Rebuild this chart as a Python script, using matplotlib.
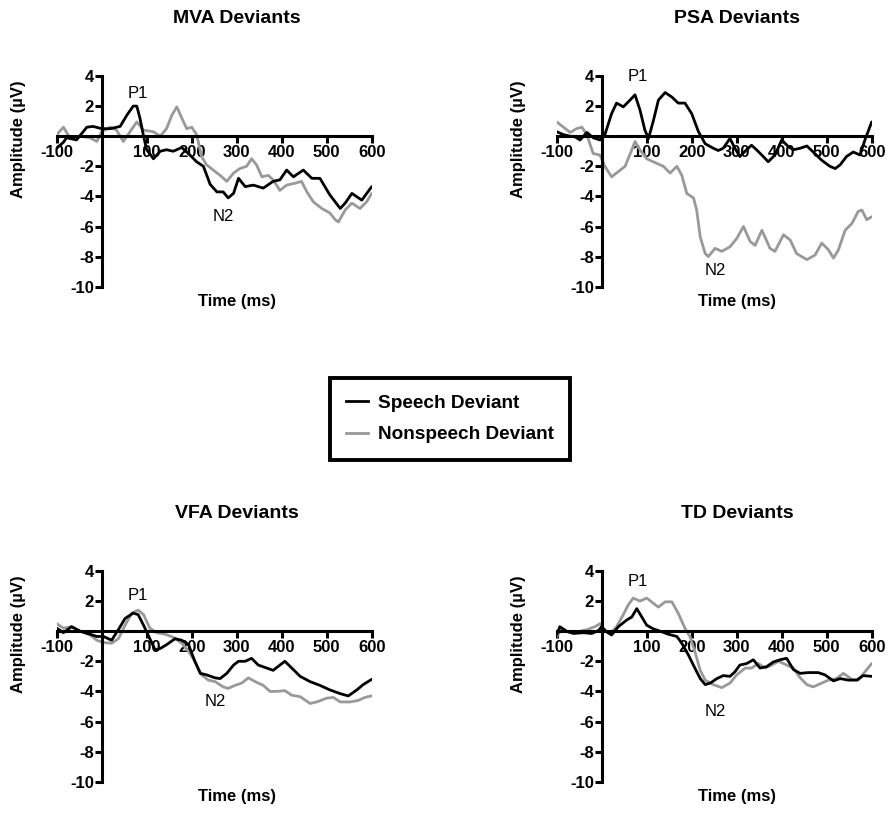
import matplotlib
matplotlib.use("Agg")
import matplotlib.pyplot as plt
from matplotlib.lines import Line2D

plt.rcParams["font.family"] = ["Liberation Sans", "DejaVu Sans"]

# ---- data (time in ms, amplitude in microvolts) ----
mva_speech_t = [-100, -85, -78, -56, -33, -19, 0, 19, 41, 56, 70, 78, 85, 93, 100, 115, 130, 144, 159, 178,
                196, 211, 226, 241, 256, 270, 281, 293, 304, 319, 337, 359, 381, 396, 411, 426, 448, 467, 485,
                507, 530, 541, 556, 578, 600]
mva_speech_v = [-0.8, -0.4, -0.1, -0.25, 0.6, 0.65, 0.5, 0.5, 0.65, 1.4, 2.0, 2.0, 1.2, 0.0, -0.9, -1.5, -1.0,
                -0.9, -1.0, -0.75, -1.25, -1.7, -2.0, -3.2, -3.7, -3.7, -4.1, -3.8, -2.8, -3.35, -3.25, -3.45,
                -3.0, -2.9, -2.25, -2.7, -2.25, -2.8, -2.8, -3.9, -4.8, -4.45, -3.8, -4.25, -3.35]
mva_nonspeech_t = [-100, -85, -70, -48, -26, -11, 0, 19, 33, 48, 63, 78, 93, 115, 130, 144, 156, 167, 178, 189,
                   200, 211, 222, 233, 248, 263, 278, 293, 307, 322, 333, 344, 356, 370, 381, 396, 411, 433, 444,
                   456, 470, 489, 507, 519, 526, 541, 556, 574, 589, 600]
mva_nonspeech_v = [0.1, 0.6, -0.15, 0.0, -0.1, -0.35, 0.3, 0.6, 0.4, -0.35, 0.3, 0.95, 0.4, 0.3, 0.0, 0.5, 1.4,
                   1.95, 1.2, 0.5, 0.6, 0.1, -1.35, -1.9, -2.25, -2.6, -3.0, -2.45, -2.15, -2.0, -1.5, -1.9, -2.7,
                   -2.6, -2.9, -3.6, -3.25, -3.1, -3.0, -3.7, -4.35, -4.8, -5.1, -5.55, -5.7, -4.9, -4.45, -4.8,
                   -4.35, -3.8]

psa_speech_t = [-100, -85, -70, -59, -48, -33, -19, -4, 7, 22, 33, 48, 63, 74, 85, 96, 104, 115, 126, 141, 156,
                170, 185, 200, 215, 230, 248, 259, 270, 285, 296, 307, 322, 333, 344, 359, 370, 385, 400, 415,
                426, 441, 456, 470, 489, 507, 519, 530, 544, 559, 574, 585, 600]
psa_speech_v = [0.3, 0.1, 0.0, -0.05, -0.25, 0.25, -0.1, -0.25, 0.1, 1.5, 2.2, 1.95, 2.4, 2.75, 1.75, 0.4, -0.15,
                1.05, 2.4, 2.9, 2.6, 2.2, 2.2, 1.5, 0.3, -0.5, -0.8, -0.95, -0.8, -0.15, -0.8, -1.35, -0.9, -0.6,
                -0.9, -1.35, -1.7, -1.25, -0.25, -0.7, -0.9, -0.8, -0.65, -1.05, -1.6, -2.0, -2.15, -1.9, -1.35,
                -1.05, -1.25, -0.25, 0.95]
psa_nonspeech_t = [-100, -85, -70, -56, -44, -33, -19, -4, 7, 22, 37, 52, 67, 74, 85, 100, 122, 137, 152, 167,
                   178, 189, 204, 211, 219, 230, 237, 252, 267, 285, 300, 315, 330, 341, 356, 374, 385, 404, 419,
                   433, 456, 474, 489, 504, 515, 526, 541, 556, 570, 578, 589, 600]
psa_nonspeech_v = [0.95, 0.6, 0.25, 0.5, 0.6, 0.1, -1.15, -1.25, -2.0, -2.7, -2.35, -2.0, -0.9, -0.35, -0.9,
                   -1.5, -1.8, -2.0, -2.45, -2.0, -2.6, -3.8, -4.1, -4.9, -6.7, -7.8, -8.0, -7.45, -7.65, -7.35,
                   -6.8, -6.0, -7.0, -7.25, -6.25, -7.45, -7.65, -6.55, -6.9, -7.8, -8.2, -7.9, -7.1, -7.55, -8.1,
                   -7.55, -6.25, -5.8, -5.0, -4.9, -5.55, -5.35]

vfa_speech_t = [-100, -85, -67, -48, -26, -11, 4, 22, 37, 52, 70, 81, 93, 107, 119, 130, 144, 163, 178, 193, 207,
                219, 233, 252, 263, 278, 293, 304, 319, 333, 348, 367, 381, 396, 407, 419, 441, 463, 485, 507,
                530, 548, 567, 581, 600]
vfa_speech_v = [0.2, -0.1, 0.3, 0.0, -0.2, -0.35, -0.35, -0.6, 0.1, 0.85, 1.2, 1.1, 0.4, -0.5, -1.25, -1.15,
                -0.9, -0.5, -0.6, -0.9, -2.0, -2.8, -2.9, -3.1, -3.15, -2.8, -2.25, -2.0, -2.0, -1.8, -2.25,
                -2.45, -2.6, -2.25, -2.0, -2.35, -3.0, -3.35, -3.6, -3.9, -4.15, -4.3, -3.9, -3.55, -3.2]
vfa_nonspeech_t = [-100, -85, -67, -48, -26, -11, 4, 22, 37, 52, 67, 81, 93, 107, 122, 141, 159, 178, 193, 207,
                   222, 237, 252, 270, 281, 296, 311, 326, 341, 359, 374, 389, 407, 422, 441, 463, 478, 500, 515,
                   530, 552, 570, 585, 600]
vfa_nonspeech_v = [0.5, 0.2, 0.3, 0.0, -0.25, -0.6, -0.75, -0.8, -0.5, 0.4, 1.2, 1.4, 1.1, 0.2, -0.1, -0.2,
                   -0.4, -0.8, -1.35, -2.0, -2.9, -3.25, -3.35, -3.7, -3.8, -3.6, -3.45, -3.1, -3.35, -3.6, -4.0,
                   -4.0, -3.95, -4.25, -4.35, -4.8, -4.7, -4.45, -4.4, -4.7, -4.7, -4.6, -4.4, -4.3]

td_speech_t = [-100, -93, -78, -63, -41, -22, -7, 0, 11, 22, 37, 56, 67, 78, 89, 100, 115, 130, 148, 167, 178,
               193, 207, 219, 230, 241, 256, 270, 285, 296, 307, 322, 337, 352, 367, 381, 396, 411, 426, 441, 459,
               481, 496, 515, 530, 548, 567, 581, 600]
td_speech_v = [-0.25, 0.3, 0.0, -0.15, -0.1, -0.15, 0.05, 0.3, -0.05, -0.25, 0.3, 0.75, 0.95, 1.5, 0.95, 0.4,
               0.15, 0.0, -0.2, -0.35, -0.8, -1.6, -2.45, -3.15, -3.55, -3.45, -3.15, -2.95, -3.0, -2.7, -2.25,
               -2.15, -1.9, -2.45, -2.35, -2.05, -1.9, -1.8, -2.55, -2.8, -2.75, -2.75, -2.9, -3.3, -3.15, -3.25,
               -3.25, -2.95, -3.0]
td_nonspeech_t = [-100, -89, -70, -48, -33, -15, -4, 4, 19, 33, 48, 59, 70, 85, 100, 115, 126, 141, 156, 170,
                  185, 196, 207, 219, 230, 248, 267, 285, 300, 319, 333, 348, 363, 378, 393, 411, 426, 441, 456,
                  470, 485, 504, 522, 537, 556, 570, 585, 600]
td_nonspeech_v = [-0.35, 0.1, -0.1, 0.0, 0.1, 0.3, 0.5, 0.1, -0.15, 0.3, 1.1, 1.75, 2.2, 2.0, 2.2, 1.85, 1.6,
                  1.95, 1.95, 1.2, 0.2, -0.35, -1.35, -2.6, -3.25, -3.55, -3.75, -3.45, -2.9, -2.45, -2.45,
                  -2.15, -2.45, -2.25, -2.0, -2.25, -2.45, -3.1, -3.55, -3.7, -3.5, -3.25, -3.15, -2.8, -3.2,
                  -3.25, -2.7, -2.15]

panel_titles = ["MVA Deviants", "PSA Deviants", "VFA Deviants", "TD Deviants"]
# (P1 x, P1 y, N2 x, N2 y) label anchors in data units
peak_labels = [(81, 2.85, 270, -5.35), (81, 3.95, 252, -8.9), (81, 2.4, 252, -4.7), (81, 3.3, 252, -5.35)]
x_ticks = [-100, 100, 200, 300, 400, 500, 600]
y_ticks = [-10, -8, -6, -4, -2, 2, 4]

SPEECH = "#000000"
NONSPEECH = "#999999"

panels = [
    (mva_speech_t, mva_speech_v, mva_nonspeech_t, mva_nonspeech_v),
    (psa_speech_t, psa_speech_v, psa_nonspeech_t, psa_nonspeech_v),
    (vfa_speech_t, vfa_speech_v, vfa_nonspeech_t, vfa_nonspeech_v),
    (td_speech_t, td_speech_v, td_nonspeech_t, td_nonspeech_v),
]

W, H = 889, 813
fig = plt.figure(figsize=(W / 100, H / 100), dpi=100)

ax_w, ax_h = 315, 210.7
origins = [(56.7, 76), (556.7, 76), (56.7, 571), (556.7, 571)]  # left, top in pixels

for i, ((st, sv, nt, nv), title, (p1x, p1y, n2x, n2y)) in enumerate(zip(panels, panel_titles, peak_labels)):
    left, top = origins[i]
    ax = fig.add_axes([left / W, 1 - (top + ax_h) / H, ax_w / W, ax_h / H])
    ax.plot(nt, nv, color=NONSPEECH, lw=2.0, solid_joinstyle="round", solid_capstyle="round", zorder=3)
    ax.plot(st, sv, color=SPEECH, lw=2.0, solid_joinstyle="round", solid_capstyle="round", zorder=4)

    ax.set_xlim(-100, 600)
    ax.set_ylim(-10, 4)
    for s in ("top", "right"):
        ax.spines[s].set_visible(False)
    for s in ("left", "bottom"):
        ax.spines[s].set_position(("data", 0))
        ax.spines[s].set_linewidth(2.2)
        ax.spines[s].set_zorder(5)
    ax.set_xticks(x_ticks)
    ax.set_yticks(y_ticks)
    ax.set_xticklabels([str(t) for t in x_ticks])
    ax.set_yticklabels([str(t) for t in y_ticks])
    ax.tick_params(width=2.2, length=5, labelsize=12, direction="out")
    ax.tick_params(axis="y", pad=0.5)
    ax.tick_params(axis="x", pad=1.5)
    for lab in ax.get_xticklabels() + ax.get_yticklabels():
        lab.set_fontweight("bold")
    ax.patch.set_visible(False)

    ax.text(0.572, 1.275, title, transform=ax.transAxes, ha="center", va="center",
            fontsize=14, fontweight="bold")
    ax.text(0.572, -0.072, "Time (ms)", transform=ax.transAxes, ha="center", va="center",
            fontsize=12, fontweight="bold")
    ax.text(-0.12, 0.70, "Amplitude (µV)", transform=ax.transAxes, ha="center", va="center",
            rotation=90, fontsize=12, fontweight="bold")
    ax.text(p1x, p1y, "P1", ha="center", va="center", fontsize=12)
    ax.text(n2x, n2y, "N2", ha="center", va="center", fontsize=12)

handles = [Line2D([], [], color=SPEECH, lw=2.0), Line2D([], [], color=NONSPEECH, lw=2.0)]
leg = fig.legend(handles, ["Speech Deviant", "Nonspeech Deviant"], loc="center",
                 bbox_to_anchor=(450 / W, 1 - 419 / H), frameon=True, fancybox=False, framealpha=1,
                 prop={"weight": "bold", "size": 13.7}, handlelength=1.15, borderpad=0.85,
                 labelspacing=0.75, handletextpad=0.5)
leg.get_frame().set_edgecolor("black")
leg.get_frame().set_linewidth(2.8)

fig.savefig("out.png", dpi=100)
